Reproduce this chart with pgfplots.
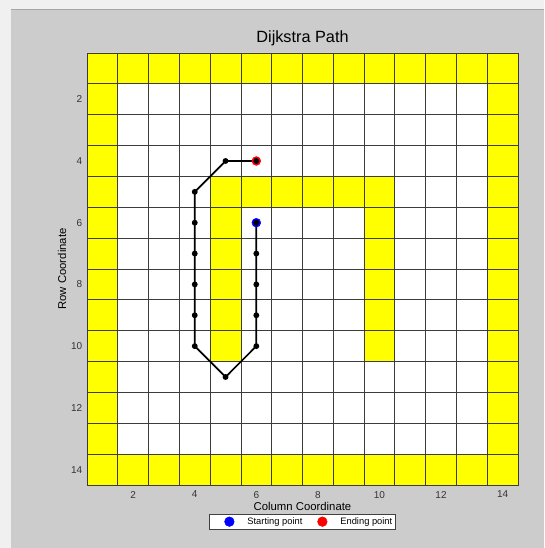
\documentclass[border=0pt]{standalone}
\usepackage{pgfplots}
\pgfplotsset{compat=1.18}
\usepackage{fontspec}
\setmainfont{Liberation Sans}
\definecolor{bggray}{RGB}{204,204,204}
\definecolor{topgray}{RGB}{240,240,240}
\definecolor{gridc}{RGB}{60,60,60}
\definecolor{myyellow}{RGB}{255,255,0}
\pgfplotsset{
  layers/mylayers/.define layer set={
    bgbg,axis background,axis grid,axis ticks,axis lines,axis tick labels,
    pre main,main,axis descriptions,axis foreground
  }{/pgfplots/layers/standard},
}
\begin{document}
\begin{tikzpicture}
\begin{axis}[
  set layers=mylayers,
  at={(0,0)}, anchor=south west,
  scale only axis, width=323.25pt, height=324pt,
  xmin=0.5, xmax=14.5, ymin=0.5, ymax=14.5,
  y dir=reverse,
  xtick={2,4,...,14}, ytick={2,4,...,14},
  minor xtick={0.5,1.5,...,14.5}, minor ytick={0.5,1.5,...,14.5},
  grid=minor,
  minor grid style={gridc, line width=0.6pt},
  major tick length=0pt, minor tick length=0pt,
  axis line style={gridc, line width=0.6pt},
  /pgf/number format/assume math mode=true,
  tick label style={font=\fontsize{7.5}{9}\selectfont, text=black!80},
  xticklabel style={yshift=-1pt},
  title={Dijkstra Path},
  every axis title/.style={at={(axis description cs:0.5,1)}, anchor=center, yshift=11pt, font=\fontsize{12.2}{14}\selectfont},
  xlabel={Column Coordinate},
  every axis x label/.style={at={(axis description cs:0.5,0)}, anchor=center, yshift=-16pt, font=\fontsize{8.5}{10}\selectfont},
  ylabel={Row Coordinate},
  every axis y label/.style={at={(axis description cs:-0.058,0.5)}, anchor=center, rotate=90, font=\fontsize{8.5}{10}\selectfont},
  legend columns=2,
  legend image code/.code={%
    \path[draw=none,fill=none] (0pt,0pt) (18.5pt,0pt);
    \draw[mark repeat=1,#1,mark size=3.6pt] plot coordinates {(12.5pt,0pt)};
  },
  legend style={at={(axis description cs:0.5,0)}, anchor=center, yshift=-27.5pt,
    draw=black!75, fill=white, font=\fontsize{7}{8.5}\selectfont,
    inner xsep=2.5pt, inner ysep=1pt,
    nodes={inner xsep=0pt, inner ysep=1.6pt},
    column sep=0pt,
    /tikz/every odd column/.append style={column sep=7.5pt},
    /tikz/every even column/.append style={column sep=2.5pt}},
]
\addplot[fill=white, draw=none, on layer=axis background, forget plot] coordinates {(0.5,0.5) (14.5,0.5) (14.5,14.5) (0.5,14.5) (0.5,0.5)};
% border walls
\addplot[fill=myyellow, draw=none, on layer=axis background, forget plot] coordinates {(0.5,0.5) (14.5,0.5) (14.5,1.5) (0.5,1.5) (0.5,0.5)};
\addplot[fill=myyellow, draw=none, on layer=axis background, forget plot] coordinates {(0.5,13.5) (14.5,13.5) (14.5,14.5) (0.5,14.5) (0.5,13.5)};
\addplot[fill=myyellow, draw=none, on layer=axis background, forget plot] coordinates {(0.5,1.5) (1.5,1.5) (1.5,13.5) (0.5,13.5) (0.5,1.5)};
\addplot[fill=myyellow, draw=none, on layer=axis background, forget plot] coordinates {(13.5,1.5) (14.5,1.5) (14.5,13.5) (13.5,13.5) (13.5,1.5)};
% inner obstacle
\addplot[fill=myyellow, draw=none, on layer=axis background, forget plot] coordinates {(4.5,4.5) (10.5,4.5) (10.5,10.5) (9.5,10.5) (9.5,5.5) (5.5,5.5) (5.5,10.5) (4.5,10.5) (4.5,4.5)};
% start / end
\addplot[only marks, mark=*, mark size=3.3pt, color=blue] coordinates {(6,6)};
\addlegendentry{Starting point}
\addplot[only marks, mark=*, mark size=3.3pt, color=red] coordinates {(6,4)};
\addlegendentry{Ending point}
% path
\addplot[black, line width=1.3pt, mark=*, mark size=1.5pt, forget plot] coordinates {(6,6) (6,7) (6,8) (6,9) (6,10) (5,11) (4,10) (4,9) (4,8) (4,7) (4,6) (4,5) (5,4) (6,4)};
\end{axis}
\begin{pgfonlayer}{bgbg}
\fill[topgray] (-65.25pt,-47.25pt) rectangle (342.75pt,363.75pt);
\fill[bggray] (-57pt,-47.25pt) rectangle (342.75pt,356.25pt);
\draw[black!35, line width=0.75pt] (-57pt,356.25pt) -- (342.75pt,356.25pt);
\end{pgfonlayer}
\end{tikzpicture}
\end{document}
